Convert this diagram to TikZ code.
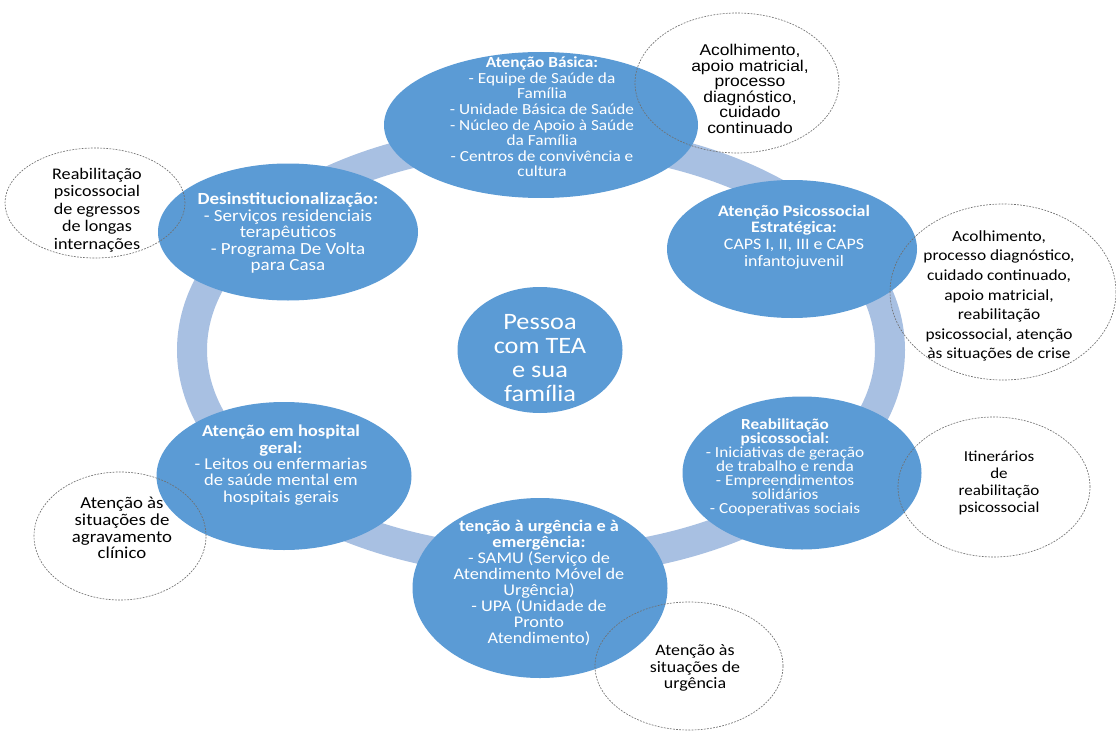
\documentclass[tikz,border=0pt]{standalone}
\usepackage{fontspec}
\setmainfont{Carlito}[FakeStretch=1.12]
\newfontfamily\arialf{Liberation Sans}[FakeStretch=1.12]
\usetikzlibrary{shapes.geometric}
\definecolor{nodeblue}{HTML}{5B9BD5}
\definecolor{ringblue}{HTML}{A8C0E2}
\definecolor{dashgray}{HTML}{707070}
\newcommand{\fs}[2]{\fontsize{#1}{#2}\selectfont}
\tikzset{
  x=1pt, y=-1pt,
  blueell/.style={ellipse, fill=nodeblue, inner sep=0pt},
  dashell/.style={ellipse, draw=dashgray, line width=0.65pt, dash pattern=on 1.8pt off 1.3pt, inner sep=0pt},
  ringline/.style={draw=ringblue, line width=30pt},
  wtext/.style={text=white, align=center, inner sep=0pt},
  btext/.style={text=black, align=center, inner sep=0pt}
}
\begin{document}
\begin{tikzpicture}
\useasboundingbox[fill=white] (0,0) rectangle (1116,733);
% ring
\draw[ringline] (541,350) ellipse [x radius=349pt, y radius=212pt];
% blue ellipses
\node[blueell, minimum width=314pt, minimum height=146pt] (ab) at (541,125) {};
\node[blueell, minimum width=250pt, minimum height=138pt] (ape) at (792,249) {};
\node[blueell, minimum width=239pt, minimum height=153pt] (reab) at (802,473) {};
\node[blueell, minimum width=255pt, minimum height=180pt] (urg) at (540,588) {};
\node[blueell, minimum width=255pt, minimum height=148pt] (hosp) at (284,476) {};
\node[blueell, minimum width=260pt, minimum height=137pt] (des) at (288,232) {};
\node[blueell, minimum width=165pt, minimum height=126pt] (tea) at (540,350) {};
% dashed annotation ellipses
\node[dashell, minimum width=204pt, minimum height=140pt] (na) at (737,83) {};
\node[dashell, minimum width=180pt, minimum height=110pt] (nb) at (95,203) {};
\node[dashell, minimum width=226pt, minimum height=176pt] (nc) at (1003,292) {};
\node[dashell, minimum width=192pt, minimum height=140pt] (nd) at (994,487) {};
\node[dashell, minimum width=188pt, minimum height=128pt] (ne) at (689,666) {};
\node[dashell, minimum width=172pt, minimum height=128pt] (nf) at (120,536) {};
% texts in blue ellipses
\node[wtext, font=\fs{15.4}{15.6}] (abt) at (542,117) {\textbf{Atenção Básica:}\\- Equipe de Saúde da\\Família\\- Unidade Básica de Saúde\\- Núcleo de Apoio à Saúde\\da Família\\- Centros de convivência e\\cultura};
\node[wtext, font=\fs{16}{16.7}] (apet) at (794,237) {\textbf{Atenção Psicossocial}\\\textbf{Estratégica:}\\CAPS I, II, III e CAPS\\infantojuvenil};
\node[wtext, font=\fs{15.4}{14}] (reabt) at (785,467) {\textbf{Reabilitação}\\\textbf{psicossocial:}\\- Iniciativas de geração\\de trabalho e renda\\- Empreendimentos\\solidários\\- Cooperativas sociais};
\node[wtext, font=\fs{16.3}{15.9}] (urgt) at (539,583) {\textbf{tenção à urgência e à}\\\textbf{emergência:}\\- SAMU (Serviço de\\Atendimento Móvel de\\Urgência)\\- UPA (Unidade de\\Pronto\\Atendimento)};
\node[wtext, font=\fs{16.6}{16.3}] (hospt) at (281,465) {\textbf{Atenção em hospital}\\\textbf{geral:}\\- Leitos ou enfermarias\\de saúde mental em\\hospitais gerais};
\node[wtext, font=\fs{17}{16.4}] (dest) at (288,233) {\textbf{Desinstitucionalização:}\\- Serviços residenciais\\terapêuticos\\- Programa De Volta\\para Casa};
\node[wtext, font=\fs{23.5}{23.8}] (teat) at (540,358) {Pessoa\\com TEA\\e sua\\família};
% annotation texts
\node[btext, font=\arialf\fs{15.6}{15.6}] (nat) at (750,89) {Acolhimento,\\apoio matricial,\\processo\\diagnóstico,\\cuidado\\continuado};
\node[btext, font=\fs{16.2}{17.5}] (nbt) at (97,210) {Reabilitação\\psicossocial\\de egressos\\de longas\\internações};
\node[btext, font=\fs{15.5}{19.6}] (nct) at (999,296) {Acolhimento,\\processo diagnóstico,\\cuidado continuado,\\apoio matricial,\\reabilitação\\psicossocial, atenção\\às situações de crise};
\node[btext, font=\fs{15.2}{17}] (ndt) at (999,483) {Itinerários\\de\\reabilitação\\psicossocial};
\node[btext, font=\fs{16}{16.6}] (net) at (695,668) {Atenção às\\situações de\\urgência};
\node[btext, font=\fs{16.8}{16.7}] (nft) at (122,528) {Atenção às\\situações de\\agravamento\\clínico};
\end{tikzpicture}
\end{document}
